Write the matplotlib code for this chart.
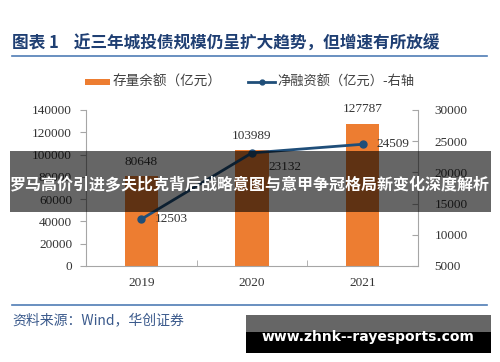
import matplotlib
matplotlib.use("Agg")
import matplotlib.pyplot as plt
from matplotlib.patches import Rectangle
from matplotlib.lines import Line2D

plt.rcParams["font.family"] = ["Noto Sans CJK SC", "DejaVu Sans"]

# --- data ---
years = ["2019", "2020", "2021"]
stock = [80648, 103989, 127787]      # 存量余额（亿元）
net_fin = [12503, 23132, 24509]      # 净融资额（亿元）-右轴
left_ticks = [0, 20000, 40000, 60000, 80000, 100000, 120000, 140000]
right_ticks = [5000, 10000, 15000, 20000, 25000, 30000]

title = "图表 1    近三年城投债规模仍呈扩大趋势，但增速有所放缓"
source = "资料来源：Wind，华创证券"
banner = "罗马高价引进多夫比克背后战略意图与意甲争冠格局新变化深度解析"
watermark = "www.zhnk--rayesports.com"

ORANGE = "#ED7D31"
NAVY = "#1F4E79"
TITLE_BLUE = "#1F3F73"
RULE_BLUE = "#4F7DB5"
AX_GRAY = "#A6A6A6"
SERIF = ["Liberation Serif", "DejaVu Serif"]

W, H = 500, 362
fig = plt.figure(figsize=(W / 100, H / 100), dpi=100)


def fx(px):
    return px / W


def fy(py):
    return 1 - py / H


# title and rules
fig.text(fx(12), fy(44), title, fontsize=12, fontweight="bold", color=TITLE_BLUE,
         va="center", ha="left")
fig.add_artist(Line2D([fx(12), fx(487)], [fy(56), fy(56)], color=RULE_BLUE, lw=1.2))
fig.add_artist(Line2D([fx(12), fx(487)], [fy(305), fy(305)], color=RULE_BLUE, lw=1.2))
fig.text(fx(12), fy(320), source, fontsize=10, style="italic", color="#3B5A8C",
         va="center", ha="left")

# legend
fig.add_artist(Rectangle((fx(85), fy(85)), fx(25), 6 / H, color=ORANGE, lw=0))
fig.text(fx(113), fy(82), "存量余额（亿元）", fontsize=9.8, color="#404040", va="center")
fig.add_artist(Line2D([fx(248), fx(275)], [fy(82), fy(82)], color=NAVY, lw=2))
fig.add_artist(Line2D([fx(261.5)], [fy(82)], color=NAVY, marker="o", markersize=3.5, lw=0))
fig.text(fx(277), fy(82), "净融资额（亿元）-右轴", fontsize=9.5, color="#404040", va="center")

# axes
ax = fig.add_axes([fx(86), fy(266), fx(418 - 86), (266 - 110) / H])
x = list(range(len(years)))
ax.bar(x, stock, width=0.3, color=ORANGE, zorder=2)
ax.set_xlim(-0.5, 2.5)
ax.set_ylim(0, 140000)
ax.set_yticks(left_ticks)
ax.set_yticklabels([str(t) for t in left_ticks], family=SERIF, fontsize=9.5, color="#333333")
ax.set_xticks(x)
ax.set_xticklabels(years, family=SERIF, fontsize=9.5, color="#333333")
ax.tick_params(axis="x", length=0, pad=8)
ax.set_xticks([0.5, 1.5], minor=True)
ax.tick_params(axis="x", which="minor", direction="in", length=4, color=AX_GRAY)
ax.tick_params(axis="y", direction="out", length=4, color=AX_GRAY, pad=6)
for s in ["top", "right"]:
    ax.spines[s].set_visible(False)
for s in ["left", "bottom"]:
    ax.spines[s].set_color(AX_GRAY)
for xi, v in zip(x, stock):
    ax.annotate(str(v), (xi, v), xytext=(0, 6), textcoords="offset points",
                ha="center", va="bottom", family=SERIF, fontsize=9.5, color="#333333")

ax2 = ax.twinx()
ax2.plot(x, net_fin, color=NAVY, lw=2, marker="o", markersize=5, zorder=3)
ax2.set_ylim(5000, 30000)
ax2.set_yticks(right_ticks)
ax2.set_yticklabels([str(t) for t in right_ticks], family=SERIF, fontsize=9.5, color="#333333")
ax2.tick_params(axis="y", direction="in", length=4, color=AX_GRAY, pad=12)
for s in ["top", "left", "bottom"]:
    ax2.spines[s].set_visible(False)
ax2.spines["right"].set_color(AX_GRAY)
offsets = [(10, 0), (12, -10), (10, 0)]
for xi, v, off in zip(x, net_fin, offsets):
    ax2.annotate(str(v), (xi, v), xytext=off, textcoords="offset points",
                 ha="left", va="center", family=SERIF, fontsize=9.5, color="#333333")

# overlay banner
fig.add_artist(Rectangle((fx(10), fy(212)), fx(481), 61 / H, color="#000000",
                         alpha=0.6, lw=0, zorder=10))
fig.text(0.5, fy(185), banner, fontsize=11.5, fontweight="bold", color="white",
         ha="center", va="center", zorder=11)

# watermark box
fig.add_artist(Rectangle((fx(246), fy(332)), fx(245), 17 / H, color="#666666", lw=0, zorder=10))
fig.add_artist(Rectangle((fx(246), fy(353)), fx(245), 21 / H, color="#000000", lw=0, zorder=10))
fig.text(fx(368), fy(337), watermark, fontsize=10, fontweight="bold", color="white",
         family="DejaVu Sans", ha="center", va="center", zorder=11)

fig.savefig("out.png", dpi=100)
